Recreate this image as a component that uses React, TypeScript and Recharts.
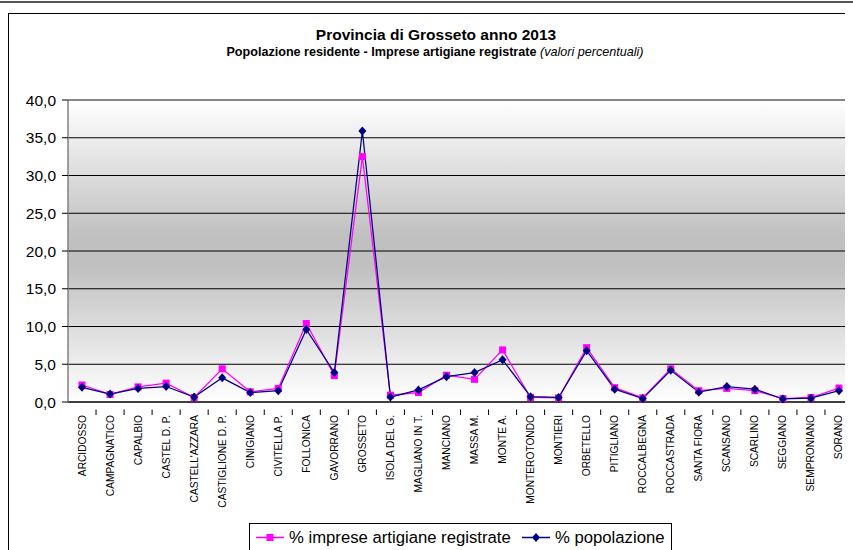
import React from "react";
import { LineChart, Line, XAxis, YAxis, CartesianGrid, ReferenceLine } from "recharts";

const comuni = [
  "ARCIDOSSO", "CAMPAGNATICO", "CAPALBIO", "CASTEL D. P.", "CASTELL'AZZARA",
  "CASTIGLIONE D. P.", "CINIGIANO", "CIVITELLA P.", "FOLLONICA", "GAVORRANO",
  "GROSSETO", "ISOLA DEL G.", "MAGLIANO IN T.", "MANCIANO", "MASSA M.",
  "MONTE A.", "MONTEROTONDO", "MONTIERI", "ORBETELLO", "PITIGLIANO",
  "ROCCALBEGNA", "ROCCASTRADA", "SANTA FIORA", "SCANSANO", "SCARLINO",
  "SEGGIANO", "SEMPRONIANO", "SORANO",
];

const impreseArtigiane = [
  2.25, 1.0, 2.0, 2.5, 0.6,
  4.4, 1.35, 1.8, 10.4, 3.5,
  32.5, 0.9, 1.25, 3.55, 3.0,
  6.9, 0.6, 0.55, 7.2, 1.9,
  0.55, 4.4, 1.5, 1.8, 1.5,
  0.45, 0.6, 1.85,
];

const popolazione = [
  1.95, 1.05, 1.8, 2.05, 0.65,
  3.2, 1.25, 1.5, 9.6, 3.9,
  35.9, 0.65, 1.6, 3.35, 3.9,
  5.6, 0.7, 0.6, 6.8, 1.7,
  0.45, 4.2, 1.3, 2.05, 1.7,
  0.4, 0.5, 1.5,
];

const yTicks = [0, 5, 10, 15, 20, 25, 30, 35, 40];

const data = comuni.map((c, i) => ({
  comune: c,
  imprese: impreseArtigiane[i],
  popolazione: popolazione[i],
}));

const CHART_W = 844;
const CHART_H = 536;
const Y_W = 59;
const BAND = (CHART_W - Y_W) / comuni.length;

const font = "Arial, 'Liberation Sans', sans-serif";

const XTick = (props: any) => {
  const { x, y, payload } = props;
  const bx = x - BAND / 2;
  return (
    <g>
      {payload.index > 0 && (
        <line x1={bx} x2={bx} y1={y - 0.5} y2={y + 5} stroke="#000" strokeWidth={1} />
      )}
      <text
        transform={`translate(${x + 3.5},${y + 5}) rotate(-90)`}
        textAnchor="end"
        fontSize={10.2}
        fontFamily={font}
        fill="#000"
      >
        {payload.value}
      </text>
    </g>
  );
};

const Square = (props: any) => {
  const { cx, cy } = props;
  if (cx == null || cy == null) return null;
  return <rect x={cx - 3.5} y={cy - 3.5} width={7} height={7} fill="#FF00FF" />;
};

const Diamond = (props: any) => {
  const { cx, cy } = props;
  if (cx == null || cy == null) return null;
  return (
    <polygon
      points={`${cx},${cy - 4.5} ${cx + 4},${cy} ${cx},${cy + 4.5} ${cx - 4},${cy}`}
      fill="#000080"
    />
  );
};

export default function App() {
  return (
    <div style={{ position: "relative" }}>
      <div
        style={{
          position: "fixed",
          top: 1,
          left: 0,
          width: 853,
          height: 2,
          background: "#555",
        }}
      />
      <div
        style={{
          position: "relative",
          marginTop: 5,
          width: CHART_W + 1,
          height: CHART_H + 1,
          borderLeft: "1px solid #000",
          borderTop: "1px solid #000",
          fontFamily: font,
          overflow: "hidden",
        }}
      >
        <div
          style={{
            position: "absolute",
            left: 127,
            width: 600,
            top: 12,
            textAlign: "center",
            fontSize: 15.5,
            fontWeight: "bold",
            lineHeight: "18px",
          }}
        >
          Provincia di Grosseto anno 2013
        </div>
        <div
          style={{
            position: "absolute",
            left: 126,
            width: 600,
            top: 31,
            textAlign: "center",
            fontSize: 12.6,
            fontWeight: "bold",
            lineHeight: "15px",
            whiteSpace: "nowrap",
          }}
        >
          Popolazione residente - Imprese artigiane registrate{" "}
          <span style={{ fontWeight: "normal", fontStyle: "italic" }}>(valori percentuali)</span>
        </div>
        <LineChart
          width={CHART_W}
          height={CHART_H}
          data={data}
          margin={{ top: 86, right: 0, left: 0, bottom: 0 }}
        >
          <defs>
            <linearGradient id="plotBg" x1="0" y1="0" x2="0" y2="1">
              <stop offset="0%" stopColor="#ffffff" />
              <stop offset="45%" stopColor="#c0c0c0" />
              <stop offset="55%" stopColor="#c0c0c0" />
              <stop offset="100%" stopColor="#ffffff" />
            </linearGradient>
          </defs>
          <CartesianGrid
            vertical={false}
            stroke="#000"
            strokeWidth={1}
            fill="url(#plotBg)"
            fillOpacity={1}
          />
          <ReferenceLine y={40} stroke="#909090" strokeWidth={1} />
          <XAxis
            dataKey="comune"
            interval={0}
            height={148}
            padding={{ left: BAND / 2, right: BAND / 2 }}
            axisLine={{ stroke: "#000", strokeWidth: 1 }}
            tickLine={false}
            tick={<XTick />}
          />
          <YAxis
            width={Y_W}
            domain={[0, 40]}
            ticks={yTicks}
            interval={0}
            tickFormatter={(v: number) => v.toFixed(1).replace(".", ",")}
            axisLine={{ stroke: "#808080", strokeWidth: 1.5 }}
            tickLine={{ stroke: "#000" }}
            tickSize={6}
            tickMargin={6}
            tick={{ fontSize: 15.5, fill: "#000", fontFamily: font }}
          />
          <Line
            type="linear"
            dataKey="imprese"
            stroke="#FF00FF"
            strokeWidth={1.25}
            dot={<Square />}
            activeDot={false}
            isAnimationActive={false}
          />
          <Line
            type="linear"
            dataKey="popolazione"
            stroke="#000080"
            strokeWidth={1.25}
            dot={<Diamond />}
            activeDot={false}
            isAnimationActive={false}
          />
        </LineChart>
        <div
          style={{
            position: "absolute",
            left: 240,
            top: 509,
            width: 423,
            height: 40,
            border: "1px solid #000",
            boxSizing: "border-box",
          }}
        >
          <svg width={421} height={30} style={{ position: "absolute", left: 0, top: 0 }}>
            <line x1={6} x2={34} y1={13.5} y2={13.5} stroke="#FF00FF" strokeWidth={1.5} />
            <rect x={16.5} y={10} width={7} height={7} fill="#FF00FF" />
            <text x={39} y={19} fontSize={16.7} fontFamily={font} fill="#000">
              % imprese artigiane registrate
            </text>
            <line x1={272} x2={300} y1={13.5} y2={13.5} stroke="#000080" strokeWidth={1.5} />
            <polygon points="286,9 290,13.5 286,18 282,13.5" fill="#000080" />
            <text x={305} y={19} fontSize={16.7} fontFamily={font} fill="#000">
              % popolazione
            </text>
          </svg>
        </div>
      </div>
    </div>
  );
}
